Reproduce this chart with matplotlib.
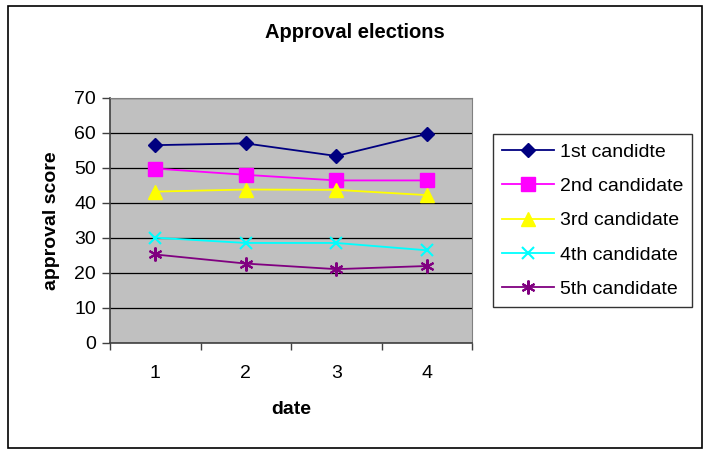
import matplotlib
matplotlib.use("Agg")
import matplotlib.pyplot as plt
from matplotlib.patches import Rectangle

plt.rcParams["font.family"] = ["Liberation Sans", "DejaVu Sans"]

dates = [1, 2, 3, 4]
date_labels = ["1", "2", "3", "4"]
cand1 = [56.5, 57.0, 53.4, 59.7]
cand2 = [49.8, 48.0, 46.4, 46.4]
cand3 = [43.2, 43.8, 43.7, 42.2]
cand4 = [30.0, 28.5, 28.5, 26.4]
cand5 = [25.2, 22.6, 21.0, 21.9]
y_ticks = [0, 10, 20, 30, 40, 50, 60, 70]

fig = plt.figure(figsize=(7.04, 4.5), dpi=100)
ax = fig.add_axes([110 / 704, 1 - 342.5 / 450, 362 / 704, 244.5 / 450])
ax.set_facecolor("#c0c0c0")

# outer chart border
fig.patches.append(Rectangle((8 / 704, 1 - 448 / 450), 694 / 704, 442 / 450,
                             transform=fig.transFigure, fill=False,
                             edgecolor="black", linewidth=1.2))

ax.plot(dates, cand1, color="#000080", marker="D", markersize=7, linewidth=1.3, label="1st candidte")
ax.plot(dates, cand2, color="#ff00ff", marker="s", markersize=10, linewidth=1.3, label="2nd candidate")
ax.plot(dates, cand3, color="#ffff00", marker="^", markersize=10, linewidth=1.3, label="3rd candidate")
ax.plot(dates, cand4, color="#00ffff", marker="x", markersize=9, markeredgewidth=1.5, linewidth=1.3, label="4th candidate")
ax.plot(dates, cand5, color="#800080", marker=(6, 2, 0), markersize=10, markeredgewidth=1.5, linewidth=1.3, label="5th candidate")

ax.set_xlim(0.5, 4.5)
ax.set_ylim(0, 70)
ax.set_yticks(y_ticks)
ax.yaxis.grid(True, color="black", linewidth=0.9)
ax.set_axisbelow(True)
ax.set_xticks(dates)
ax.set_xticklabels(date_labels)
ax.set_xticks([0.5, 1.5, 2.5, 3.5, 4.5], minor=True)
ax.tick_params(axis="x", which="major", length=0, pad=16, labelsize=14)
ax.tick_params(axis="x", which="minor", length=5, width=1, color="#404040")
ax.tick_params(axis="y", length=6, width=1, color="#404040", labelsize=14, pad=4)

for side in ["top", "right"]:
    ax.spines[side].set_color("#808080")
    ax.spines[side].set_linewidth(0.8)
for side in ["left", "bottom"]:
    ax.spines[side].set_color("#404040")
    ax.spines[side].set_linewidth(1.2)

fig.text(355 / 704, 1 - 33 / 450, "Approval elections", fontsize=14.5, fontweight="bold",
         ha="center", va="center")
ax.set_xlabel("date", fontsize=14, fontweight="bold", labelpad=14)
ax.set_ylabel("approval score", fontsize=14, fontweight="bold", labelpad=10)

leg = ax.legend(loc="center left", bbox_to_anchor=(493 / 704, 1 - 220.5 / 450),
                bbox_transform=fig.transFigure, borderaxespad=0, fontsize=14, frameon=True,
                fancybox=False, edgecolor="black", handlelength=2.7, labelspacing=0.86,
                borderpad=0.45, handletextpad=0.3)
leg.get_frame().set_linewidth(1.0)

fig.savefig("out.png", dpi=100)
